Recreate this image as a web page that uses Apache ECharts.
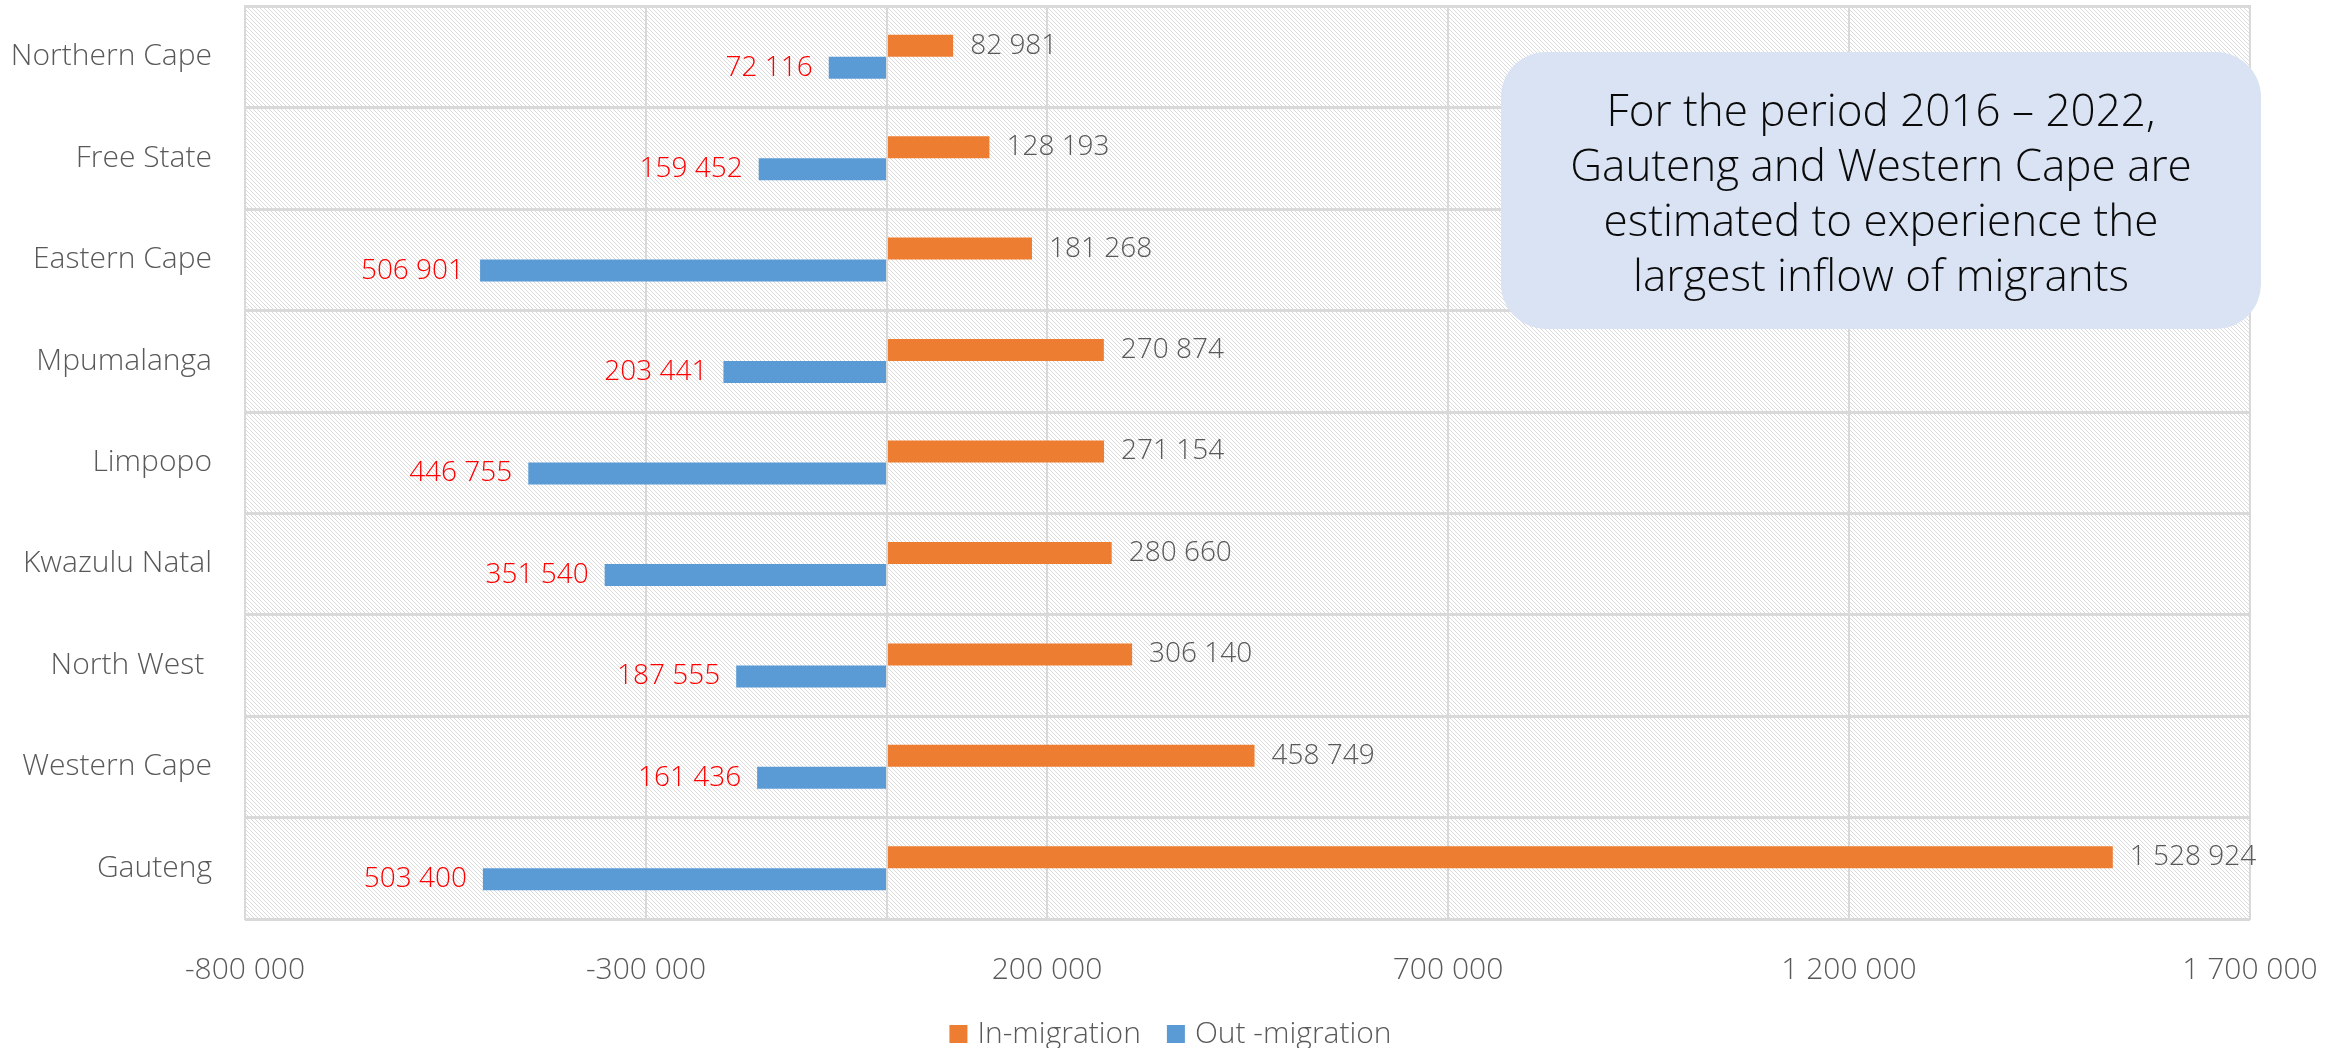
<!DOCTYPE html>
<html>
<head>
<meta charset="utf-8">
<script src="https://cdn.jsdelivr.net/npm/echarts@6/dist/echarts.min.js"></script>
<style>
html,body{margin:0;padding:0;background:#fff;}
#chart{width:2341px;height:1048px;}
</style>
</head>
<body>
<div id="chart"></div>
<script>
// Categories listed bottom-to-top
const categories = ['Gauteng', 'Western Cape', 'North West ', 'Kwazulu Natal', 'Limpopo', 'Mpumalanga', 'Eastern Cape', 'Free State', 'Northern Cape'];
const inMigration = [1528924, 458749, 306140, 280660, 271154, 270874, 181268, 128193, 82981];
const outMigration = [503400, 161436, 187555, 351540, 446755, 203441, 506901, 159452, 72116];
const seriesNames = ['In-migration', 'Out -migration'];
const axisMin = -800000, axisMax = 1700000, axisStep = 500000;
const noteLines = ['For the period 2016 \u2013 2022,', 'Gauteng and Western Cape are', 'estimated to experience the', 'largest inflow of migrants'];

const FONT = '"Open Sans", "Noto Sans", sans-serif';
function fmt(v) {
  const s = Math.round(Math.abs(v)).toString().replace(/\B(?=(\d{3})+(?!\d))/g, ' ');
  return (v < 0 ? '-' : '') + s;
}

// hatched background pattern
const pc = document.createElement('canvas');
pc.width = 4; pc.height = 4;
const pctx = pc.getContext('2d');
pctx.fillStyle = '#ffffff';
pctx.fillRect(0, 0, 4, 4);
pctx.fillStyle = '#dadada';
for (let i = 0; i < 4; i++) pctx.fillRect(i, i, 1, 1);

const chart = echarts.init(document.getElementById('chart'), null, {renderer: 'canvas'});
chart.setOption({
  animation: false,
  backgroundColor: '#ffffff',
  textStyle: {fontFamily: FONT},
  grid: {
    left: 245, right: 91, top: 6, bottom: 129,
    show: true,
    backgroundColor: {image: pc, repeat: 'repeat'},
    borderColor: '#d9d9d9',
    borderWidth: 2
  },
  legend: {
    data: seriesNames,
    top: 1014,
    left: 'center',
    icon: 'rect',
    itemWidth: 18,
    itemHeight: 18,
    itemGap: 26,
    textStyle: {fontFamily: FONT, fontWeight: 300, fontSize: 30, color: '#595959', padding: [0, 0, 0, 5]}
  },
  xAxis: {
    type: 'value',
    min: axisMin,
    max: axisMax,
    interval: axisStep,
    axisLine: {show: false},
    axisTick: {show: false},
    splitLine: {show: true, lineStyle: {color: '#d9d9d9', width: 2}},
    axisLabel: {
      formatter: fmt,
      margin: 36,
      fontFamily: FONT, fontWeight: 300, fontSize: 30, color: '#595959'
    }
  },
  yAxis: {
    type: 'category',
    data: categories,
    axisLine: {show: false, onZero: false},
    axisTick: {show: false},
    splitLine: {show: true, interval: 0, lineStyle: {color: '#d9d9d9', width: 3}},
    axisLabel: {
      margin: 33,
      fontFamily: FONT, fontWeight: 300, fontSize: 30, color: '#595959'
    }
  },
  series: [
    {
      name: seriesNames[0],
      type: 'bar',
      data: inMigration,
      barWidth: 22,
      barGap: '0%',
      itemStyle: {color: '#ED7D31'},
      label: {
        show: true, position: 'right', distance: 17,
        formatter: p => fmt(p.value),
        fontFamily: FONT, fontWeight: 300, fontSize: 28, color: '#595959'
      },
      markLine: {
        silent: true,
        symbol: 'none',
        label: {show: false},
        lineStyle: {color: '#d9d9d9', width: 2, type: 'solid'},
        data: [{xAxis: 0}]
      }
    },
    {
      name: seriesNames[1],
      type: 'bar',
      data: outMigration.map(v => -v),
      barWidth: 22,
      barGap: '0%',
      itemStyle: {color: '#5B9BD5'},
      label: {
        show: true, position: 'left', distance: 16,
        formatter: p => fmt(Math.abs(p.value)),
        fontFamily: FONT, fontWeight: 300, fontSize: 28, color: '#FF0000'
      }
    }
  ],
  graphic: [
    {
      type: 'group',
      left: 1501,
      top: 52,
      z: 100,
      children: [
        {
          type: 'rect',
          z: 100,
          shape: {x: 0, y: 0, width: 760, height: 277, r: 45},
          style: {fill: '#DAE3F3'}
        },
        {
          type: 'text',
          z: 101,
          x: 380,
          y: 144,
          style: {
            text: noteLines.join('\n'),
            fill: '#0a0a0a',
            font: '300 44px ' + FONT,
            align: 'center',
            verticalAlign: 'middle',
            lineHeight: 55
          }
        }
      ]
    }
  ]
});
</script>
</body>
</html>
